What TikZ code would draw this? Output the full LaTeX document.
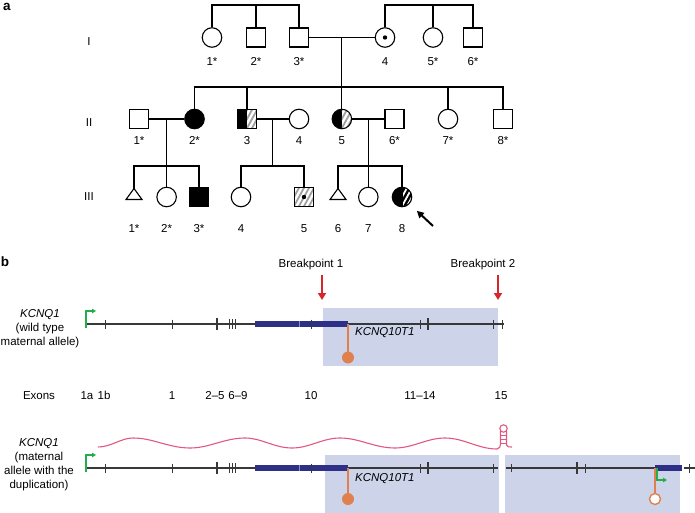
\documentclass[tikz,border=0pt]{standalone}
\usepackage{fontspec}
\setmainfont{Liberation Sans}
\usetikzlibrary{arrows.meta,calc}

\definecolor{navybar}{HTML}{2E3088}
\definecolor{boxblue}{HTML}{CDD4EA}
\definecolor{lolli}{HTML}{E0804F}
\definecolor{promo}{HTML}{22AE4C}
\definecolor{bpred}{HTML}{D8262B}
\definecolor{rnapink}{HTML}{E2587F}
\definecolor{hatchgray}{HTML}{A0A0A0}
\definecolor{geneline}{HTML}{383838}

% diagonal stripes inside a path picture, clipped from x=#2 to the right edge
\newcommand\pedhatch[2]{%
  \begin{scope}[shift={(path picture bounding box.center)}]
    \clip (#2,-12) rectangle (12,12);
    \foreach \k in {-30,-25,...,30}
      \draw[#1,line width=1.8pt] (\k-6,11) -- (\k+6,-11);
  \end{scope}}

\begin{document}
\begin{tikzpicture}[x=1pt,y=-1pt,>=Stealth,
  font=\fontsize{11.5}{14}\selectfont,
  lbl/.style={font=\fontsize{11.5}{14}\selectfont,inner sep=0pt},
  panel/.style={font=\fontsize{13.5}{15}\selectfont\bfseries,inner sep=0pt},
  pline/.style={line width=1.1pt,black},
  sq/.style={draw,rectangle,minimum size=19pt,inner sep=0pt,line width=1.1pt},
  ci/.style={draw,circle,minimum size=19.5pt,inner sep=0pt,line width=1.1pt},
  tri/.style={rectangle,minimum width=16pt,minimum height=11pt,inner sep=0pt,outer sep=0pt},
  gln/.style={line width=1.1pt,geneline},
  thin/.style={line width=0.8pt,geneline},
  thick/.style={line width=2.3pt,geneline},
  bparr/.style={line width=2.2pt,bpred,-{Triangle[length=7pt,width=8pt]}},
  prom/.style={line width=1.4pt,promo,-{Triangle[length=4pt,width=4.5pt]}},
  rna/.style={line width=1.1pt,rnapink},
  lol/.style={line width=1.4pt,lolli},
]
\useasboundingbox (0,0) rectangle (695,513);

% ============================================================
% (a) Pedigree
% ============================================================
\begin{scope}
  \node[panel,anchor=north west] (lbla) at (3,3) {a};

  % Generation labels
  \node[lbl] (genI) at (89,42) {I};
  \node[lbl] (genII) at (89,123) {II};
  \node[lbl] (genIII) at (89,197) {III};

  % Generation I
  \node[ci] (i1) at (212,37.5) {};
  \node[sq] (i2) at (256,37.5) {};
  \node[sq] (i3) at (299,37.5) {};
  \node[ci,path picture={\fill (path picture bounding box.center) circle (2.2pt);}]
    (i4) at (385,37.5) {};
  \node[ci] (i5) at (433,37.5) {};
  \node[sq] (i6) at (473,37.5) {};

  \coordinate (sib1) at (0,5);
  \draw[pline] (i1.north) -- (i1.north |- sib1) -| (i3.north);
  \draw[pline] (i2.north) -- (i2.north |- sib1);
  \draw[pline] (i4.north) -- (i4.north |- sib1) -| (i6.north);
  \draw[pline] (i5.north) -- (i5.north |- sib1);
  \draw[pline] (i3.east) -- (i4.west);
  \coordinate (m1) at ($(i3.east)!.5!(i4.west)$);

  % Generation II
  \node[sq] (ii1) at (139,119) {};
  \node[ci,fill=black] (ii2) at (194.5,119) {};
  \node[sq,path picture={
      \fill[black] (path picture bounding box.north west)
        rectangle (path picture bounding box.south);
      \pedhatch{hatchgray}{0}}] (ii3) at (247,119) {};
  \node[ci] (ii4) at (299,119) {};
  \node[ci,path picture={
      \fill[black] (path picture bounding box.north west)
        rectangle (path picture bounding box.south);
      \pedhatch{hatchgray}{0}}] (ii5) at (m1 |- 0,119) {};
  \node[sq] (ii6) at (394.5,119) {};
  \node[ci] (ii7) at (448,119) {};
  \node[sq] (ii8) at (503,119) {};

  \coordinate (sib2) at (0,87);
  \draw[pline] (m1) -- (ii5.north);
  \draw[pline] (ii2.north) -- (ii2.north |- sib2) -| (ii8.north);
  \foreach \n in {ii3,ii7}
    \draw[pline] (\n.north) -- (\n.north |- sib2);
  \draw[pline] (ii1.east) -- (ii2.west);
  \draw[pline] (ii3.east) -- (ii4.west);
  \draw[pline] (ii5.east) -- (ii6.west);
  \coordinate (m2) at ($(ii1.east)!.5!(ii2.west)$);
  \coordinate (m3) at ($(ii3.east)!.5!(ii4.west)$);
  \coordinate (m4) at ($(ii5.east)!.5!(ii6.west)$);

  % Generation III
  \node[tri] (iii1) at (134,194) {};
  \node[ci] (iii2) at (m2 |- 0,197) {};
  \node[sq,fill=black] (iii3) at (199,197) {};
  \node[ci] (iii4) at (241,197) {};
  \node[sq,path picture={
      \pedhatch{hatchgray}{-12}
      \fill (path picture bounding box.center) circle (2.2pt);}]
    (iii5) at (304,197) {};
  \node[tri] (iii6) at (338,194) {};
  \node[ci] (iii7) at (m4 |- 0,197) {};
  \node[ci,fill=black,path picture={\pedhatch{white}{1}}] (iii8) at (402,197) {};
  \foreach \n in {iii1,iii6}
    \draw[pline,line join=miter] (\n.south west) -- (\n.north) -- (\n.south east) -- cycle;

  \coordinate (sib3) at (0,166);
  \draw[pline] (iii1.north) -- (iii1.north |- sib3) -| (iii3.north);
  \draw[pline] (m2) -- (iii2.north);
  \draw[pline] (m3) -- (m3 |- sib3);
  \draw[pline] (iii4.north) -- (iii4.north |- sib3) -| (iii5.north);
  \draw[pline] (iii6.north) -- (iii6.north |- sib3) -| (iii8.north);
  \draw[pline] (m4) -- (iii7.north);

  % Individual numbers
  \foreach \n/\t in {i1/1*,i2/2*,i3/3*,i4/4,i5/5*,i6/6*}
    \node[lbl,anchor=base] (\n-l) at (\n |- 0,66) {\t};
  \foreach \n/\t in {ii1/1*,ii2/2*,ii3/3,ii4/4,ii5/5,ii6/6*,ii7/7*,ii8/8*}
    \node[lbl,anchor=base] (\n-l) at (\n |- 0,145) {\t};
  \foreach \n/\t in {iii1/1*,iii2/2*,iii3/3*,iii4/4,iii5/5,iii6/6,iii7/7,iii8/8}
    \node[lbl,anchor=base] (\n-l) at (\n |- 0,232) {\t};

  % Proband
  \coordinate (pb) at (433,226);
  \draw[line width=2pt,-{Triangle[length=7pt,width=7pt]},shorten >=10pt] (pb) -- (iii8);
\end{scope}

% ============================================================
% (b) KCNQ1 locus
% ============================================================
\begin{scope}
  \def\yA{324}
  \def\yB{468}

  \node[panel] (lblb) at (5,262) {b};

  % Breakpoints
  \node[lbl] (bp1) at (311,265) {Breakpoint 1};
  \node[lbl] (bp2) at (483,265) {Breakpoint 2};
  \coordinate (bt1) at (322,300);
  \coordinate (bt2) at (498,300);
  \draw[bparr] (bt1 |- bp1.south) ++(0,4) -- (bt1);
  \draw[bparr] (bt2 |- bp2.south) ++(0,4) -- (bt2);

  % Wild type allele
  \node[lbl,align=center] (wt) at (40,329)
    {\textit{KCNQ1}\\(wild type\\maternal allele)};
  \fill[boxblue] (323,308) rectangle (498,366);
  \draw[gln] (86,\yA) -- (504,\yA);
  \fill[navybar] (255,\yA-2.8) rectangle (348,\yA+2.8);
  \draw[navybar!55!white,line width=0.5pt] (299.5,\yA-2.8) -- (299.5,\yA+2.8);
  \foreach \x in {105,172,311,420,493,502}
    \draw[thin] (\x,\yA-4.5) -- (\x,\yA+4.5);
  \foreach \x in {229,232,235}
    \draw[thin] (\x,\yA-5) -- (\x,\yA+5);
  \foreach \x in {217,428}
    \draw[thick] (\x,\yA-6) -- (\x,\yA+6);
  \draw[prom] (86,\yA+4) -- (86,\yA-13) -- (96,\yA-13);
  \draw[lol] (348,\yA) -- (348,352);
  \fill[lolli] (348,357.5) circle (6);
  \node[lbl,anchor=west,font=\fontsize{11.5}{14}\selectfont\itshape]
    (kt1) at (355,333) {KCNQ10T1};

  % Exon numbers
  \node[lbl,anchor=base] (exons) at (39,399) {Exons};
  \foreach \x/\t [count=\i] in {87/1a,104/1b,172/1,215/2--5,238/6--9,311/10,420/11--14,501/15}
    \node[lbl,anchor=base] (ex\i) at (\x,399) {\t};

  % Allele with the duplication
  \node[lbl,align=center] (dup) at (39,464.5)
    {\textit{KCNQ1}\\(maternal\\allele with the\\duplication)};
  \fill[boxblue] (325,455) rectangle (499,513);
  \fill[boxblue] (505,455) rectangle (680,513);
  \draw[gln] (86,\yB) -- (498,\yB);
  \fill[navybar] (255,\yB-2.8) rectangle (348,\yB+2.8);
  \draw[navybar!55!white,line width=0.5pt] (299.5,\yB-2.8) -- (299.5,\yB+2.8);
  \foreach \x in {105,172,311,420,493}
    \draw[thin] (\x,\yB-4.5) -- (\x,\yB+4.5);
  \foreach \x in {229,232,235}
    \draw[thin] (\x,\yB-5) -- (\x,\yB+5);
  \foreach \x in {217,428}
    \draw[thick] (\x,\yB-6) -- (\x,\yB+6);
  \draw[prom] (86,\yB+4) -- (86,\yB-13) -- (96,\yB-13);
  \draw[lol] (348,\yB) -- (348,493.5);
  \fill[lolli] (348,499) circle (6);
  \node[lbl,anchor=west,font=\fontsize{11.5}{14}\selectfont\itshape]
    (kt2) at (355,479) {KCNQ10T1};

  % Duplicated copy
  \draw[gln] (506,\yB) -- (655,\yB);
  \draw[thin] (511,\yB-4) -- (511,\yB+4);
  \draw[thin] (585,\yB-4.5) -- (585,\yB+4.5);
  \draw[thick] (577,\yB-6) -- (577,\yB+6);
  \fill[navybar] (655,\yB-2.8) rectangle (682,\yB+2.8);
  \draw[gln] (684,\yB) -- (695,\yB);
  \draw[thin] (689,\yB-4.5) -- (689,\yB+4.5);
  \draw[lol] (655,\yB) -- (655,493.5);
  \filldraw[fill=white,draw=lolli,line width=1.4pt] (655,499) circle (5.5);
  \draw[prom] (657,\yB) -- (657,\yB+12) -- (667,\yB+12);

  % Read-through transcript with hairpin
  \draw[rna] (98,447) cos (116,442.5) sin (133,438) cos (161,443) sin (190,448)
    cos (217,443) sin (245,438) cos (268,443) sin (292,448)
    cos (316,443) sin (340,438) cos (367,443) sin (395,448)
    cos (420,443) sin (445,438) cos (471,443.5) sin (497,449)
    to[out=0,in=-90] (500.5,444) -- (500.5,430.7);
  \draw[rna] (503.5,428.5) circle (3.7);
  \draw[rna] (506.5,430.7) -- (506.5,445) to[out=-90,in=180] (512,447);
  \foreach \y in {435,439,443}
    \draw[rna,line width=0.8pt] (500.5,\y) -- (506.5,\y);
\end{scope}

\end{tikzpicture}
\end{document}
